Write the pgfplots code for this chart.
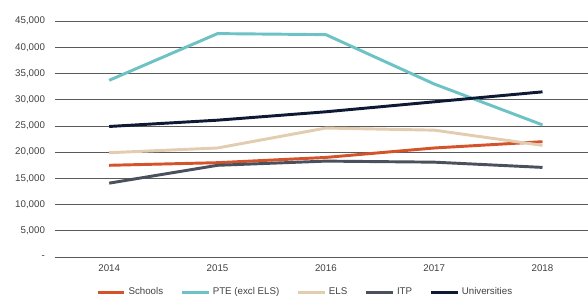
\documentclass[border=0pt]{standalone}
\usepackage{pgfplots}
\pgfplotsset{compat=1.18}
\usepackage{fontspec}
\setmainfont{Liberation Sans}
\definecolor{cSch}{HTML}{D4532B}
\definecolor{cPTE}{HTML}{6CC2C4}
\definecolor{cELS}{HTML}{E2CDB0}
\definecolor{cITP}{HTML}{4A515C}
\definecolor{cUni}{HTML}{0E1A33}
\definecolor{cGrid}{HTML}{5A5A5A}
\definecolor{cTxt}{HTML}{404040}
\begin{document}
\begin{tikzpicture}
\begin{axis}[
  name=ax,
  scale only axis,
  width=399.5pt, height=177pt,
  xmin=-0.5, xmax=4.42,
  ymin=0, ymax=45000,
  scaled y ticks=false,
  axis line style={draw=none},
  ymajorgrids=true,
  grid style={cGrid, line width=0.6pt},
  xtick={0,1,2,3,4},
  xticklabels={2014,2015,2016,2017,2018},
  ytick={0,5000,10000,15000,20000,25000,30000,35000,40000,45000},
  yticklabels={-,{5,000},{10,000},{15,000},{20,000},{25,000},{30,000},{35,000},{40,000},{45,000}},
  tick label style={font=\fontsize{7.3}{8}\selectfont, text=cTxt},
  yticklabel style={xshift=-4pt},
  xticklabel style={yshift=-2pt},
  major tick length=0pt,
  tick style={draw=none},
  clip=false,
  legend columns=5,
  legend style={at={(0.47,-0.148)}, anchor=center, draw=none, fill=none,
    font=\fontsize{7.3}{8}\selectfont, text=cTxt,
    /tikz/every even column/.append style={column sep=11pt}},
  legend image code/.code={\draw[#1, line width=2.2pt] (0pt,0pt) -- (20pt,0pt);},
  every axis plot/.append style={line width=2.2pt, mark=none},
]
\addplot[cSch] coordinates {(0,17500) (1,18000) (2,19000) (3,20800) (4,22000)};
\addlegendentry{Schools}
\addplot[cPTE] coordinates {(0,33700) (1,42600) (2,42400) (3,33000) (4,25200)};
\addlegendentry{PTE (excl ELS)}
\addplot[cELS] coordinates {(0,19900) (1,20800) (2,24600) (3,24200) (4,21300)};
\addlegendentry{ELS}
\addplot[cITP] coordinates {(0,14100) (1,17500) (2,18300) (3,18100) (4,17100)};
\addlegendentry{ITP}
\addplot[cUni] coordinates {(0,24900) (1,26100) (2,27700) (3,29600) (4,31500)};
\addlegendentry{Universities}
\end{axis}
\pgfresetboundingbox
\path (ax.south west) ++(-41.25pt,-30.75pt) coordinate (bl);
\path (ax.north east) ++(0pt,15.75pt) coordinate (tr);
\path[use as bounding box] (bl) rectangle (tr);
\end{tikzpicture}
\end{document}
